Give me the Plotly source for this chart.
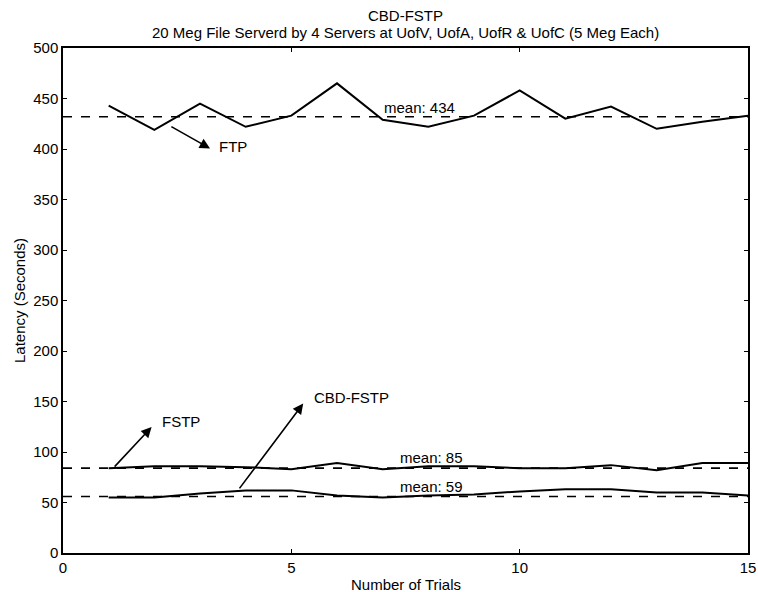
import plotly.graph_objects as go

trials = list(range(1, 16))
ftp = [443, 419, 445, 422, 433, 465, 429, 422, 433, 458, 430, 442, 420, 427, 433]
fstp = [84, 86, 86, 85, 83, 89, 83, 86, 86, 84, 84, 87, 82, 89, 89]
cbd_fstp = [55, 55, 59, 62, 62, 57, 55, 57, 58, 61, 63, 63, 60, 60, 57]

mean_levels = [432, 84, 56]
mean_labels = ["mean: 434", "mean: 85", "mean: 59"]
mean_label_x = [7.8, 8.06, 8.06]
mean_label_y = [441, 95, 65.5]

series_names = ["FTP", "FSTP", "CBD-FSTP"]
# arrow tail (x, y), head (x, y), text position
arrow_tail = [(2.34, 423), (1.10, 84), (3.84, 62.5)]
arrow_head = [(3.22, 400.5), (1.94, 124.7), (5.26, 148)]
label_pos = [(3.37, 402), (2.12, 130), (5.45, 153.5)]

FONT = "Liberation Sans, Arial, sans-serif"
FS = 15

fig = go.Figure()
for ys in (ftp, fstp, cbd_fstp):
    fig.add_trace(go.Scatter(x=trials, y=ys, mode="lines",
                             line=dict(color="black", width=2), showlegend=False))
for lvl in mean_levels:
    fig.add_trace(go.Scatter(x=[0, 15], y=[lvl, lvl], mode="lines",
                             line=dict(color="black", width=1.6, dash="dash"),
                             showlegend=False))

ann = []
for txt, x, y in zip(mean_labels, mean_label_x, mean_label_y):
    ann.append(dict(x=x, y=y, text=txt, showarrow=False, xref="x", yref="y",
                    font=dict(size=FS, color="black", family=FONT)))
for name, t, h, p in zip(series_names, arrow_tail, arrow_head, label_pos):
    ann.append(dict(x=h[0], y=h[1], ax=t[0], ay=t[1], axref="x", ayref="y",
                    xref="x", yref="y", text="", showarrow=True,
                    arrowhead=2, arrowsize=1.3, arrowwidth=1.6, arrowcolor="black"))
    ann.append(dict(x=p[0], y=p[1], text=name, showarrow=False, xanchor="left",
                    xref="x", yref="y",
                    font=dict(size=FS, color="black", family=FONT)))

ann.append(dict(x=0.5, y=1, xref="paper", yref="paper", yanchor="bottom",
                yshift=22, showarrow=False, text="CBD-FSTP",
                font=dict(size=FS, color="black", family=FONT)))
ann.append(dict(x=0.5, y=1, xref="paper", yref="paper", yanchor="bottom",
                yshift=5, showarrow=False,
                text="20 Meg File Serverd by 4 Servers at UofV, UofA, UofR &amp; UofC (5 Meg Each)",
                font=dict(size=FS, color="black", family=FONT)))
ann.append(dict(x=0.5, y=0, xref="paper", yref="paper", yanchor="middle",
                yshift=-31, showarrow=False, text="Number of Trials",
                font=dict(size=FS, color="black", family=FONT)))

axis_common = dict(showline=True, linecolor="black", linewidth=1.5, mirror="ticks",
                   ticks="inside", ticklen=4, tickcolor="black", tickwidth=1.2,
                   showgrid=False, zeroline=False, automargin=False,
                   tickfont=dict(size=FS, color="black", family=FONT))

fig.update_layout(
    width=758, height=592,
    margin=dict(l=63, r=10, t=48, b=39),
    paper_bgcolor="white", plot_bgcolor="white",
    annotations=ann,
    xaxis=dict(range=[0, 15], tickvals=[0, 5, 10, 15], **axis_common),
    yaxis=dict(range=[0, 500], tickvals=list(range(0, 501, 50)),
               title=dict(text="Latency (Seconds)", standoff=4,
                          font=dict(size=FS, color="black", family=FONT)),
               **axis_common),
)

fig.write_html("out.html")
